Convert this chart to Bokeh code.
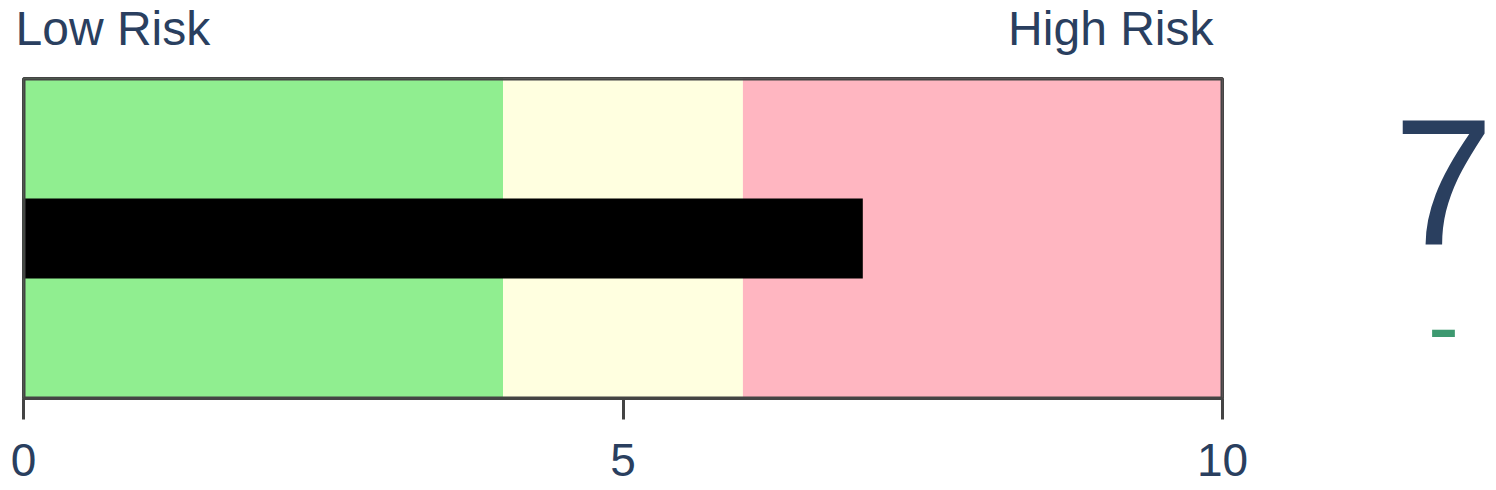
from bokeh.plotting import figure
from bokeh.models import Range1d, FixedTicker
from bokeh.layouts import column, row
from bokeh.core.properties import value as V
from bokeh.embed import file_html
from bokeh.resources import INLINE

# ---- data ----
band_starts = [0, 4, 6]
band_ends = [4, 6, 10]
band_colors = ["#90ee90", "#ffffe0", "#ffb6c1"]
score = 7
delta_text = "-"
ticks = [0, 5, 10]
low_label = "Low Risk"
high_label = "High Risk"

TEXT = "#2a3f5f"
FONT = "Liberation Sans"
EDGE = "#444444"
W, H = 1496, 490
HEAD_H = 75
MAIN_W = 1260
BODY_H = H - HEAD_H


def blank(width, height, yr):
    f = figure(width=width, height=height, output_backend="svg", toolbar_location=None,
               x_range=Range1d(0, width), y_range=yr,
               min_border=0, min_border_left=0, min_border_right=0,
               min_border_top=0, min_border_bottom=0)
    f.axis.visible = False
    f.grid.visible = False
    f.outline_line_color = None
    f.background_fill_color = "white"
    f.border_fill_color = "white"
    return f


# header with the two risk labels (positions in header pixels)
head = blank(W, HEAD_H, Range1d(HEAD_H, 0))
head.text(x=[15], y=[28], text=[low_label], text_font=V(FONT), text_font_size="48px",
          text_color=TEXT, text_align="left", text_baseline="alphabetic")
head.text(x=[1213], y=[28], text=[high_label], text_font=V(FONT), text_font_size="48px",
          text_color=TEXT, text_align="right", text_baseline="alphabetic")

# main bullet gauge
p = figure(width=MAIN_W, height=BODY_H, output_backend="svg", toolbar_location=None,
           x_range=Range1d(0, 10), y_range=Range1d(0, 1),
           min_border_left=23, min_border_right=MAIN_W - 23 - 1199,
           min_border_top=3, min_border_bottom=BODY_H - 3 - 320)
p.background_fill_color = "white"
p.border_fill_color = "white"
p.outline_line_color = EDGE
p.outline_line_width = 3
p.xgrid.visible = False
p.ygrid.visible = False
p.yaxis.visible = False

p.quad(left=band_starts, right=band_ends, bottom=0, top=1, fill_color=band_colors, line_color=None)
p.hbar(y=0.5, left=0, right=score, height=0.25, fill_color="black", line_color=None)
p.quad(left=[0], right=[10], bottom=[0], top=[1], fill_color=None, line_color=EDGE, line_width=4)

ax = p.xaxis[0]
ax.ticker = FixedTicker(ticks=ticks)
ax.minor_tick_line_color = None
ax.major_tick_in = 0
ax.major_tick_out = 21
ax.major_tick_line_width = 3
ax.major_tick_line_color = EDGE
ax.axis_line_color = EDGE
ax.axis_line_width = 3
ax.major_label_text_font = FONT
ax.major_label_text_font_size = "46px"
ax.major_label_text_color = TEXT
ax.major_label_standoff = 24

# side panel with the score number and delta (frame aligned with the gauge frame)
side = blank(W - MAIN_W, BODY_H, Range1d(398, 78))
side.text(x=[183], y=[182], text=[str(score)], text_font=V(FONT), text_font_size="180px",
          text_color=TEXT, text_align="center", text_baseline="alphabetic")
side.text(x=[183], y=[325], text=[delta_text], text_font=V(FONT), text_font_size="93px",
          text_color="#3d9970", text_align="center", text_baseline="alphabetic")

layout = column(head, row(p, side, spacing=0), spacing=0)
open("out.html", "w").write(file_html(layout, INLINE))
